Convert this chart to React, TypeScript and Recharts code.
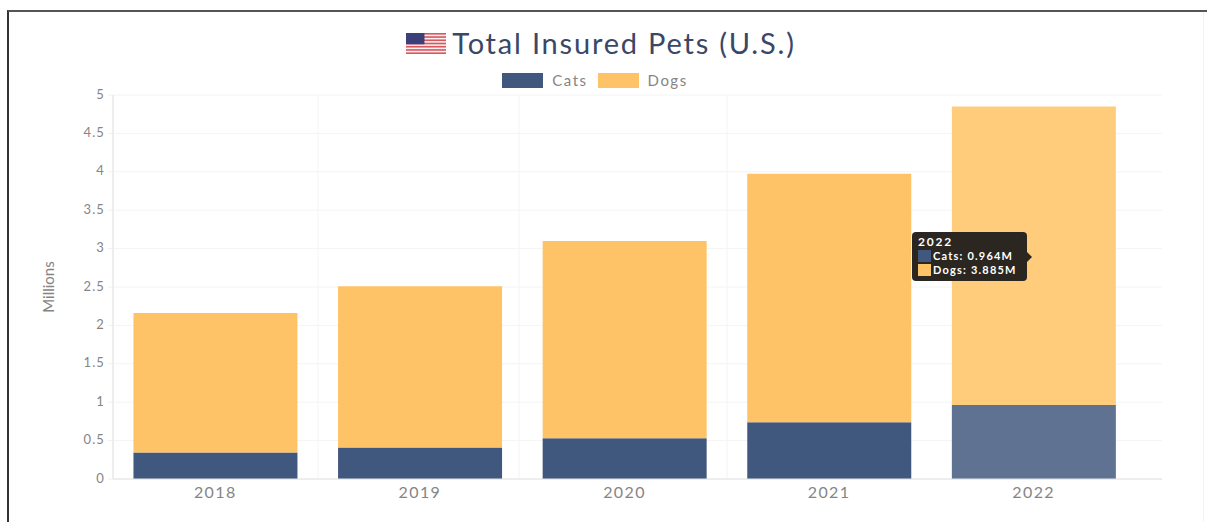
import { Bar, BarChart, CartesianGrid, Cell, Legend, Tooltip, XAxis, YAxis } from "recharts";

const years = ["2018", "2019", "2020", "2021", "2022"];
const cats = [0.345, 0.41, 0.53, 0.74, 0.964];
const dogs = [1.815, 2.1, 2.57, 3.235, 3.885];
const yTicks = [0, 0.5, 1, 1.5, 2, 2.5, 3, 3.5, 4, 4.5, 5];

const rows = years.map((year, i) => ({ year, Cats: cats[i], Dogs: dogs[i] }));

const HOVER_INDEX = 4;
const CATS = "#41587e";
const CATS_HOVER = "#5f7291";
const DOGS = "#fec267";
const DOGS_HOVER = "#ffcc7c";
const FONT = "Lato, sans-serif";

const FlagIcon = () => {
  const stripes = [0, 2, 4, 6, 8, 10, 12];
  return (
    <svg width={40} height={21} viewBox="0 0 26 13" preserveAspectRatio="none" style={{ display: "block" }}>
      <rect width={26} height={13} fill="#f4f0f0" />
      {stripes.map((s) => (
        <rect key={s} y={s} width={26} height={1} fill="#d9575f" />
      ))}
      <rect width={12} height={7} fill="#3d3f78" />
    </svg>
  );
};

const HoverBox = ({ active, payload, label }: any) => {
  if (!active || !payload || !payload.length) return null;
  return (
    <div
      style={{
        position: "relative",
        width: 115,
        height: 49,
        boxSizing: "border-box",
        padding: "3px 6px",
        background: "#2b2620",
        borderRadius: 4,
        color: "#fff",
        fontFamily: FONT,
        fontSize: 11,
        fontWeight: 700,
        lineHeight: "14px",
        letterSpacing: 1.2,
        whiteSpace: "nowrap",
      }}
    >
      <div style={{ fontSize: 12, letterSpacing: 1.8 }}>{label}</div>
      {payload.map((p: any) => (
        <div key={p.name} style={{ display: "flex", alignItems: "center", gap: 2 }}>
          <span
            style={{
              width: 13,
              height: 12,
              background: p.name === "Cats" ? CATS : DOGS,
              display: "inline-block",
            }}
          />
          {p.name}: {p.value}M
        </div>
      ))}
      <span
        style={{
          position: "absolute",
          right: -5,
          top: 20,
          borderTop: "5px solid transparent",
          borderBottom: "5px solid transparent",
          borderLeft: "5px solid #2b2620",
        }}
      />
    </div>
  );
};

const LegendRow = () => (
  <div
    style={{
      display: "flex",
      justifyContent: "center",
      alignItems: "center",
      fontFamily: FONT,
      fontSize: 15,
      color: "#858585",
      letterSpacing: 1.5,
      lineHeight: "17px",
    }}
  >
    <span style={{ width: 41, height: 15, background: CATS, marginRight: 9 }} />
    <span style={{ marginRight: 10 }}>Cats</span>
    <span style={{ width: 41, height: 15, background: DOGS, marginRight: 9 }} />
    <span>Dogs</span>
  </div>
);

export default function App() {
  return (
    <div style={{ position: "absolute", left: 0, top: 0, width: 1207, height: 522, background: "#fff", overflow: "hidden" }}>
      {/* page frame around the chart card */}
      <div style={{ position: "absolute", left: 7, top: 10, right: 0, height: 560, boxSizing: "border-box", borderTop: "2px solid #555", borderLeft: "2px solid #333" }} />
      <div style={{ position: "absolute", left: 1203, top: 12, width: 1, height: 510, background: "#f3f3f3" }} />
      <div
        style={{
          position: "absolute",
          left: 0,
          width: 1202,
          top: 26,
          display: "flex",
          justifyContent: "center",
          alignItems: "center",
          gap: 6,
          boxSizing: "border-box",
          fontFamily: FONT,
          fontSize: 29,
          color: "#3a4766",
          letterSpacing: 1.8,
          lineHeight: "34px",
        }}
      >
        <FlagIcon />
        <span>Total Insured Pets (U.S.)</span>
      </div>
      <BarChart
        width={1207}
        height={522}
        data={rows}
        barCategoryGap="10%"
        margin={{ top: 78, right: 45, bottom: 13, left: 0 }}
        style={{ position: "absolute", left: 0, top: 0 }}
      >
        <CartesianGrid stroke="#f4f4f4" verticalPoints={[318, 519, 727]} />
        <XAxis
          dataKey="year"
          padding={{ left: 0, right: 26 }}
          tick={{ fill: "#858585", fontSize: 16, fontFamily: FONT, letterSpacing: 1.4 }}
          tickLine={false}
          axisLine={{ stroke: "#e2e2e2" }}
          tickMargin={2}
        />
        <YAxis
          width={113}
          domain={[0, 5]}
          ticks={yTicks}
          interval={0}
          tick={{ fill: "#858585", fontSize: 13, fontFamily: FONT, letterSpacing: 1.1, dy: -1 }}
          tickSize={5}
          tickLine={{ stroke: "#f0f0f0" }}
          axisLine={{ stroke: "#dcdcdc" }}
          tickMargin={3}
          label={{
            value: "Millions",
            angle: -90,
            position: "insideLeft",
            offset: 49,
            style: { fill: "#858585", fontSize: 15, fontFamily: FONT, textAnchor: "middle" },
          }}
        />
        <Legend verticalAlign="top" content={<LegendRow />} wrapperStyle={{ top: 72, left: 0, width: 1190 }} />
        <Tooltip
          active
          defaultIndex={HOVER_INDEX}
          cursor={false}
          content={<HoverBox />}
          position={{ x: 912, y: 232 }}
          allowEscapeViewBox={{ x: true, y: true }}
          offset={0}
          isAnimationActive={false}
        />
        <Bar dataKey="Cats" stackId="pets" fill={CATS} isAnimationActive={false}>
          {rows.map((r, i) => (
            <Cell key={r.year} fill={i === HOVER_INDEX ? CATS_HOVER : CATS} />
          ))}
        </Bar>
        <Bar dataKey="Dogs" stackId="pets" fill={DOGS} isAnimationActive={false}>
          {rows.map((r, i) => (
            <Cell key={r.year} fill={i === HOVER_INDEX ? DOGS_HOVER : DOGS} />
          ))}
        </Bar>
      </BarChart>
    </div>
  );
}
